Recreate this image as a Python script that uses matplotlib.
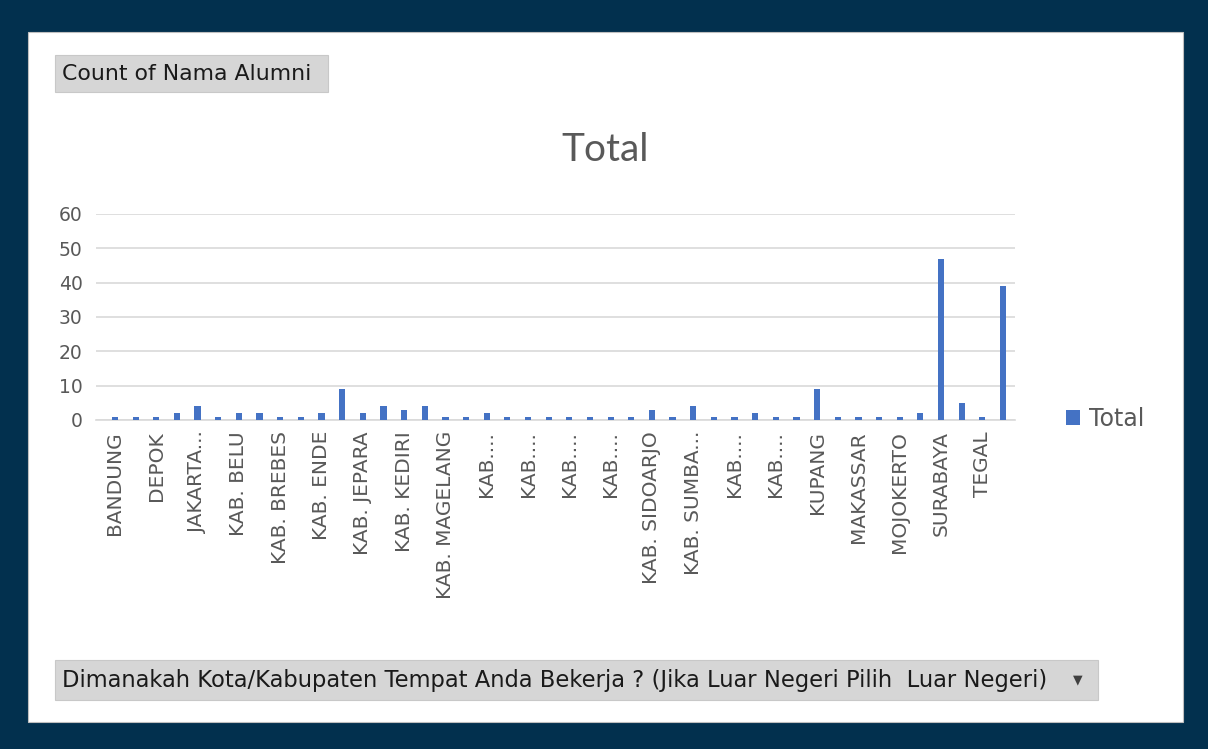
import matplotlib
matplotlib.use("Agg")
import matplotlib.pyplot as plt
from matplotlib.patches import Rectangle
import numpy as np

# every other category is labelled on the axis (Excel skips the rest)
tick_labels = [
    "BANDUNG", "", "DEPOK", "", "JAKARTA...", "", "KAB. BELU", "",
    "KAB. BREBES", "", "KAB. ENDE", "", "KAB. JEPARA", "", "KAB. KEDIRI", "",
    "KAB. MAGELANG", "", "KAB....", "", "KAB....", "", "KAB....", "",
    "KAB....", "", "KAB. SIDOARJO", "", "KAB. SUMBA...", "", "KAB....", "",
    "KAB....", "", "KUPANG", "", "MAKASSAR", "", "MOJOKERTO", "",
    "SURABAYA", "", "TEGAL", "",
]
counts = [
    1, 1, 1, 2, 4, 1, 2, 2, 1, 1, 2, 9, 2, 4, 3, 4,
    1, 1, 2, 1, 1, 1, 1, 1, 1, 1, 3, 1, 4, 1, 1, 2,
    1, 1, 9, 1, 1, 1, 1, 2, 47, 5, 1, 39,
]
yticks = [0, 10, 20, 30, 40, 50, 60]

W, H = 1208, 749
navy = "#02304e"
bar_color = "#4472C4"
text_gray = "#595959"
font = "DejaVu Sans"

fig = plt.figure(figsize=(W / 100, H / 100), dpi=100)
fig.patch.set_facecolor(navy)

# white panel inside the dark frame
fig.add_artist(Rectangle((28 / W, 1 - 722 / H), (1183 - 28) / W, (722 - 32) / H,
                         transform=fig.transFigure, facecolor="white",
                         edgecolor="#bfbfbf", linewidth=0.8, zorder=0))

ax = fig.add_axes([96.4 / W, 1 - 420 / H, (1015.4 - 96.4) / W, (420 - 214) / H])
x = np.arange(len(counts))
ax.bar(x, counts, width=0.3, color=bar_color, zorder=3, label="Total")
ax.set_xlim(-0.9, len(counts) - 0.4)
ax.set_ylim(0, 60)
ax.set_yticks(yticks)
ax.set_yticklabels([str(v) for v in yticks], fontsize=13.5, color=text_gray,
                   family=font)
ax.set_xticks(x)
ax.set_xticklabels(tick_labels, rotation=90, fontsize=14.5, color=text_gray,
                   family=font, va="top")
ax.tick_params(axis="y", length=0, pad=10)
ax.tick_params(axis="x", length=0, pad=8)
ax.grid(axis="y", color="#d9d9d9", linewidth=1.2, zorder=0)
for s in ["top", "right", "left"]:
    ax.spines[s].set_visible(False)
ax.spines["bottom"].set_color("#d9d9d9")
ax.spines["bottom"].set_linewidth(1.2)
ax.set_facecolor("none")

fig.text(605 / W, 1 - 150 / H, "Total", fontsize=28, color=text_gray,
         family="Lato", ha="center", va="center")

fig.legend(loc="center left", bbox_to_anchor=(1045 / W, 1 - 419 / H),
           frameon=False, handlelength=0.6, handleheight=0.6,
           handletextpad=0.35, labelcolor=text_gray,
           prop={"family": font, "size": 17})

# pivot field buttons
def field_button(x0, y0, x1, y1, label, size, arrow=False):
    fig.add_artist(Rectangle((x0 / W, 1 - y1 / H), (x1 - x0) / W, (y1 - y0) / H,
                             transform=fig.transFigure, facecolor="#d6d6d6",
                             edgecolor="#c8c8c8", linewidth=0.8, zorder=1))
    fig.text((x0 + 7) / W, 1 - (y0 + y1) / 2 / H, label, fontsize=size,
             color="#1a1a1a", family=font, ha="left", va="center")
    if arrow:
        fig.text((x1 - 20) / W, 1 - (y0 + y1) / 2 / H, "\u25BC", fontsize=9,
                 color="#404040", family=font, ha="center", va="center")

field_button(55, 55, 328, 92, "Count of Nama Alumni", 15.8)
field_button(55, 660, 1098, 700,
             "Dimanakah Kota/Kabupaten Tempat Anda Bekerja ? (Jika Luar Negeri Pilih  Luar Negeri)",
             16.3, arrow=True)

fig.savefig("out.png", dpi=100, facecolor=fig.get_facecolor())
